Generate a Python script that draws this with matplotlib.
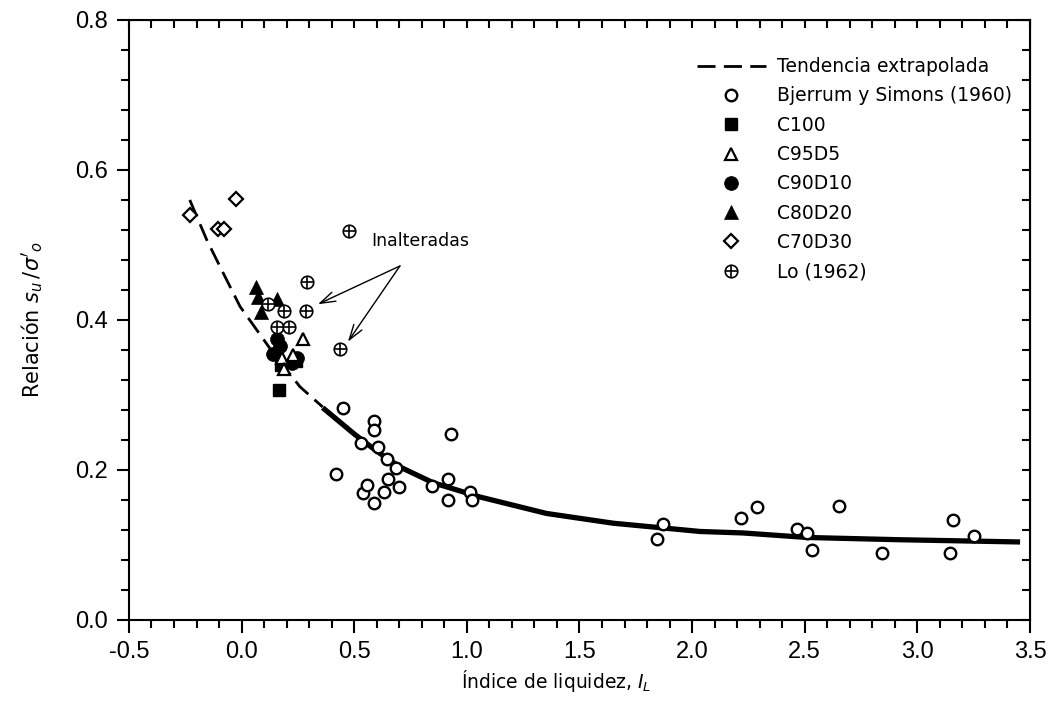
import matplotlib
matplotlib.use("Agg")
import matplotlib.pyplot as plt
from matplotlib.ticker import MultipleLocator, FormatStrFormatter

plt.rcParams["axes.unicode_minus"] = False
plt.rcParams["font.family"] = "DejaVu Sans"

# ---------------------------------------------------------------------------
# Data
# ---------------------------------------------------------------------------
bjerrum_x = [0.42, 0.45, 0.53, 0.54, 0.557, 0.588, 0.588, 0.588, 0.605, 0.632,
             0.647, 0.651, 0.685, 0.699, 0.844, 0.915, 0.916, 0.928, 1.014,
             1.023, 1.845, 1.872, 2.217, 2.287, 2.467, 2.509, 2.531, 2.652,
             2.843, 3.145, 3.160, 3.251]
bjerrum_y = [0.195, 0.283, 0.236, 0.169, 0.180, 0.265, 0.253, 0.156, 0.231,
             0.171, 0.215, 0.188, 0.202, 0.177, 0.179, 0.188, 0.160, 0.248,
             0.170, 0.160, 0.108, 0.128, 0.136, 0.150, 0.121, 0.116, 0.093,
             0.152, 0.089, 0.089, 0.133, 0.112]

c100_x = [0.165, 0.175, 0.24]
c100_y = [0.307, 0.340, 0.345]

c95d5_x = [0.274, 0.178, 0.188, 0.229]
c95d5_y = [0.374, 0.349, 0.334, 0.353]

c90d10_x = [0.158, 0.170, 0.141, 0.245, 0.222]
c90d10_y = [0.375, 0.365, 0.354, 0.349, 0.342]

c80d20_x = [0.062, 0.074, 0.158, 0.085]
c80d20_y = [0.444, 0.430, 0.428, 0.410]

c70d30_x = [-0.23, -0.105, -0.078, -0.025]
c70d30_y = [0.540, 0.521, 0.521, 0.561]

lo_x = [0.478, 0.292, 0.116, 0.188, 0.284, 0.156, 0.212, 0.438]
lo_y = [0.518, 0.451, 0.421, 0.412, 0.412, 0.390, 0.390, 0.361]

# trend curve
dash_x = [-0.23, -0.155, -0.089, -0.007, 0.126, 0.259, 0.36]
dash_y = [0.560, 0.507, 0.467, 0.418, 0.362, 0.311, 0.284]
solid_x = [0.36, 0.50, 0.60, 0.703, 0.85, 1.058, 1.354, 1.65, 2.035, 2.227,
           2.509, 2.919, 3.456]
solid_y = [0.283, 0.248, 0.225, 0.204, 0.183, 0.164, 0.142, 0.129, 0.118,
           0.116, 0.110, 0.107, 0.104]

# ---------------------------------------------------------------------------
fig = plt.figure(figsize=(10.51, 7.23), dpi=100)
ax = fig.add_axes([0.1227, 0.1425, 0.8573, 0.8299])

dash_style = (0, (6.5, 3))
h_trend, = ax.plot(dash_x, dash_y, color="black", lw=2, linestyle=dash_style,
                   label="Tendencia extrapolada")
ax.plot(solid_x, solid_y, color="black", lw=3.8, solid_capstyle="butt",
        solid_joinstyle="round")

h_bj, = ax.plot(bjerrum_x, bjerrum_y, "o", ms=8.3, mfc="white", mec="black",
                mew=1.7, label="Bjerrum y Simons (1960)")
h_c100, = ax.plot(c100_x, c100_y, "s", ms=8.5, mfc="black", mec="black",
                  mew=1, label="C100")
h_c90, = ax.plot(c90d10_x, c90d10_y, "o", ms=10, mfc="black", mec="black",
                 mew=0.5, label="C90D10")
h_c95, = ax.plot(c95d5_x, c95d5_y, "^", ms=9, mfc="white", mec="black",
                 mew=1.6, label="C95D5")
h_c80, = ax.plot(c80d20_x, c80d20_y, "^", ms=10.5, mfc="black", mec="black",
                 mew=0.5, label="C80D20")
h_c70, = ax.plot(c70d30_x, c70d30_y, "D", ms=7, mfc="white", mec="black",
                 mew=1.6, label="C70D30")
h_lo_c, = ax.plot(lo_x, lo_y, "o", ms=9, mfc="white", mec="black", mew=1.2)
h_lo_p, = ax.plot(lo_x, lo_y, "+", ms=9, mec="black", mew=1.2)

# Annotation "Inalteradas"
ax.text(0.792, 0.505, "Inalteradas", fontsize=12.5, ha="center", va="center")
for tip in [(0.339, 0.421), (0.472, 0.371)]:
    ax.annotate("", xy=tip, xytext=(0.703, 0.472),
                arrowprops=dict(arrowstyle="->,head_length=1.1,head_width=0.35",
                                color="black", lw=1.0, shrinkA=0, shrinkB=0))

# Axes
ax.set_xlim(-0.5, 3.5)
ax.set_ylim(0.0, 0.8)
ax.xaxis.set_major_locator(MultipleLocator(0.5))
ax.xaxis.set_minor_locator(MultipleLocator(0.1))
ax.yaxis.set_major_locator(MultipleLocator(0.2))
ax.yaxis.set_minor_locator(MultipleLocator(0.04))
ax.xaxis.set_major_formatter(FormatStrFormatter("%.1f"))
ax.yaxis.set_major_formatter(FormatStrFormatter("%.1f"))
ax.tick_params(which="major", direction="out", length=9, width=1.5,
               labelsize=17, pad=6)
ax.tick_params(which="minor", direction="out", length=6, width=1.5)
for lbl in ax.get_xticklabels() + ax.get_yticklabels():
    lbl.set_fontfamily("Liberation Sans")
for sp in ax.spines.values():
    sp.set_linewidth(1.5)

# mirrored ticks pointing inward on top and right
top = ax.secondary_xaxis("top")
top.xaxis.set_major_locator(MultipleLocator(0.5))
top.xaxis.set_minor_locator(MultipleLocator(0.1))
top.tick_params(which="both", direction="in", length=6, width=1.5,
                labeltop=False)
right = ax.secondary_yaxis("right")
right.yaxis.set_major_locator(MultipleLocator(0.2))
right.yaxis.set_minor_locator(MultipleLocator(0.04))
right.tick_params(which="both", direction="in", length=6, width=1.5,
                  labelright=False)

ax.set_xlabel("Índice de liquidez, $I_L$", fontsize=13.5)
ax.xaxis.set_label_coords(0.474, -0.08)
ax.set_ylabel("Relación $s_u\\,/\\sigma'_o$", fontsize=15)
ax.yaxis.set_label_coords(-0.093, 0.5)

ax.legend(handles=[h_trend, h_bj, h_c100, h_c95, h_c90, h_c80, h_c70,
                   (h_lo_c, h_lo_p)],
          labels=["Tendencia extrapolada", "Bjerrum y Simons (1960)", "C100",
                  "C95D5", "C90D10", "C80D20", "C70D30", "Lo (1962)"],
          loc="upper left", bbox_to_anchor=(0.630, 0.938), frameon=False,
          fontsize=13.5, handlelength=3.7, handletextpad=0.6,
          labelspacing=0.55, borderpad=0, borderaxespad=0)

fig.savefig("out.png", dpi=100)
